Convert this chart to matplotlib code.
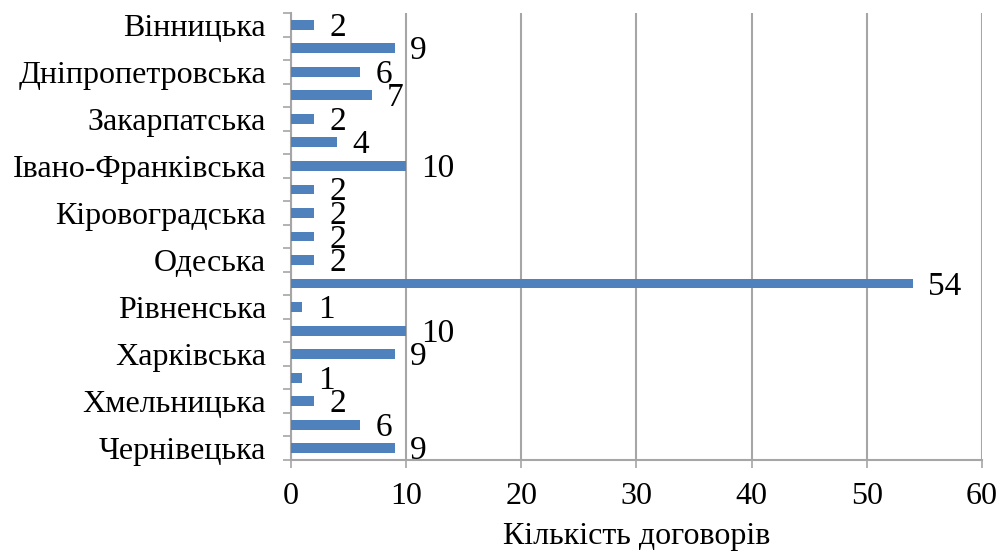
import numpy as np
import matplotlib.pyplot as plt

# regions (alphabetical), only every other name is shown on the axis
regions = ['Вінницька', 'Волинська', 'Дніпропетровська', 'Житомирська',
           'Закарпатська', 'Запорізька', 'Івано-Франківська', 'Київська',
           'Кіровоградська', 'Львівська', 'Одеська', 'Полтавська',
           'Рівненська', 'Сумська', 'Харківська', 'Херсонська',
           'Хмельницька', 'Черкаська', 'Чернівецька']
counts = [2, 9, 6, 7, 2, 4, 10, 2, 2, 2, 2, 54, 1, 10, 9, 1, 2, 6, 9]
xticks = [0, 10, 20, 30, 40, 50, 60]

plt.rcParams['font.family'] = ['Liberation Serif', 'DejaVu Serif']

fig = plt.figure(figsize=(10.02, 5.56), dpi=100)
ax = fig.add_axes([0.2904, 0.1727, 0.6896, 0.8039])

gray = '#a6a6a6'
y = np.arange(len(regions))
ax.barh(y, counts, height=0.42, color='#4f81bd', zorder=3)

for yi, v in zip(y, counts):
    ax.annotate(str(v), (v, yi), xytext=(11, -2), textcoords='offset points',
                ha='left', va='center', fontsize=24, zorder=4)

ax.set_ylim(len(regions) - 0.5, -0.5)
ax.set_xlim(0, 60)
ax.set_xticks(xticks)
ax.tick_params(axis='x', labelsize=23, length=6, color=gray, width=1.2, pad=10)

# category labels on every other bar, tick marks between categories
ax.set_yticks(y[::2])
ax.set_yticklabels(regions[::2], fontsize=23)
ax.tick_params(axis='y', which='major', length=0, pad=18)
ax.set_yticks(np.arange(-0.5, len(regions)), minor=True)
ax.tick_params(axis='y', which='minor', length=6, color=gray, width=1.2)

ax.grid(axis='x', color=gray, linewidth=1.5, zorder=0)
for s in ['top', 'right']:
    ax.spines[s].set_visible(False)
for s in ['left', 'bottom']:
    ax.spines[s].set_color(gray)
    ax.spines[s].set_linewidth(1.5)

ax.set_xlabel('Кількість договорів', fontsize=23, labelpad=8)

plt.savefig('out.png', dpi=100)
